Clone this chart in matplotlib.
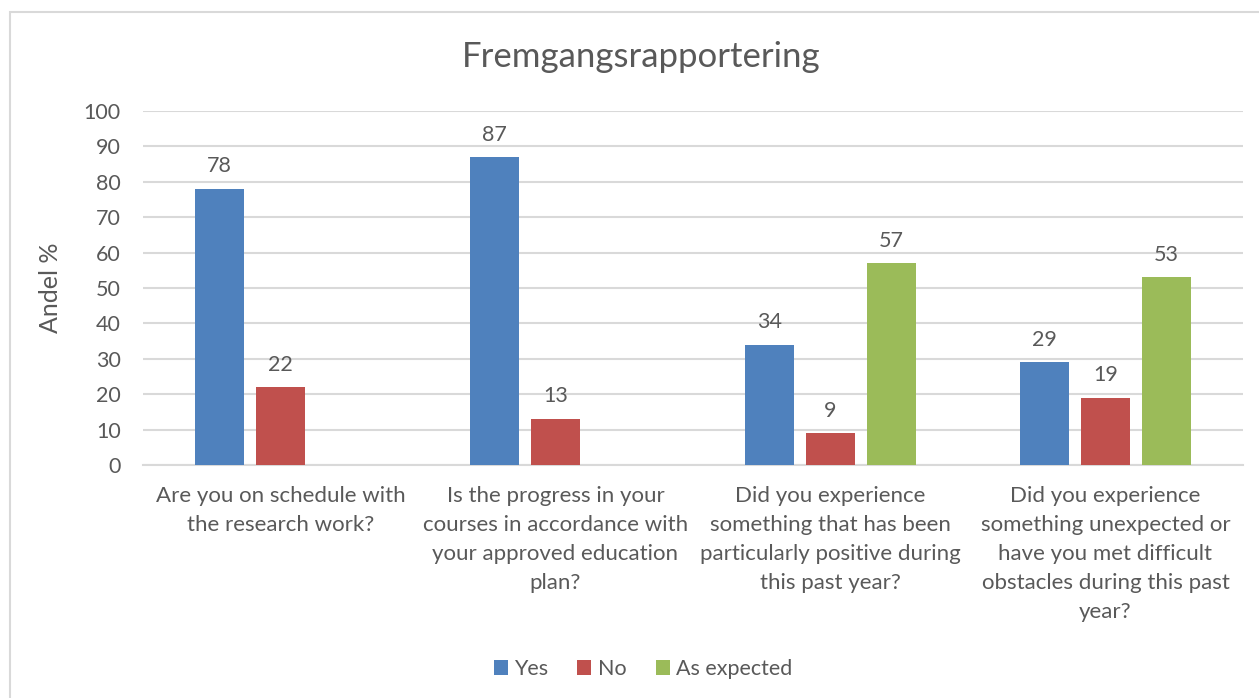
import numpy as np
import matplotlib.pyplot as plt
from matplotlib.patches import Rectangle

plt.rcParams['font.family'] = ['Lato', 'DejaVu Sans']

# Data
categories = [
    "Are you on schedule with\nthe research work?",
    "Is the progress in your\ncourses in accordance with\nyour approved education\nplan?",
    "Did you experience\nsomething that has been\nparticularly positive during\nthis past year?",
    "Did you experience\nsomething unexpected or\nhave you met difficult\nobstacles during this past\nyear?",
]
yes = [78, 87, 34, 29]
no = [22, 13, 9, 19]
as_expected = [np.nan, np.nan, 57, 53]

series = [("Yes", yes, "#4F81BD"), ("No", no, "#C0504D"), ("As expected", as_expected, "#9BBB59")]
text_col = "#595959"

fig = plt.figure(figsize=(12.59, 6.98), dpi=100)
ax = fig.add_axes([143 / 1259, 1 - 465 / 698, 1100 / 1259, 354 / 698])

# outer chart border
fig.patches.append(Rectangle((10 / 1259, -0.1), 1.2, 1 - 12 / 698 + 0.1, transform=fig.transFigure,
                             fill=False, edgecolor="#D9D9D9", linewidth=1.5))

x = np.arange(len(categories))
width = 0.175
offset = 0.222
for i, (name, vals, col) in enumerate(series):
    bars = ax.bar(x + (i - 1) * offset, vals, width, color=col, label=name, zorder=3)
    for b, v in zip(bars, vals):
        if not np.isnan(v):
            ax.annotate(f"{v:g}", (b.get_x() + b.get_width() / 2, v), xytext=(0, 9),
                        textcoords="offset points", ha="center", va="bottom",
                        fontsize=15.5, color=text_col)

ax.set_xlim(-0.5, len(categories) - 0.5)
ax.set_ylim(0, 100)
ax.set_yticks(range(0, 101, 10))
ax.set_xticks(x)
ax.set_xticklabels(categories, fontsize=16, color=text_col, linespacing=1.56)
ax.tick_params(axis='both', length=0, labelcolor=text_col)
ax.tick_params(axis='y', labelsize=15.5, pad=16)
ax.tick_params(axis='x', pad=15)
ax.grid(axis='y', color="#D9D9D9", linewidth=1.5, zorder=0)
for s in ["top", "right", "left"]:
    ax.spines[s].set_visible(False)
ax.spines["bottom"].set_color("#D9D9D9")
ax.spines["bottom"].set_linewidth(1.5)

ax.set_ylabel("Andel %", fontsize=18, color=text_col)
ax.yaxis.set_label_coords((62 - 143) / 1100, 0.5)
fig.text(641 / 1259, 1 - 57 / 698, "Fremgangsrapportering", ha="center", va="center",
         fontsize=25, color=text_col)

fig.legend(loc="center", bbox_to_anchor=(643 / 1259, 1 - 669 / 698), ncol=3, frameon=False,
           fontsize=15.5, labelcolor=text_col, handlelength=0.65, handleheight=0.65,
           handletextpad=0.3, columnspacing=1.35)

fig.savefig("out.png", dpi=100)
